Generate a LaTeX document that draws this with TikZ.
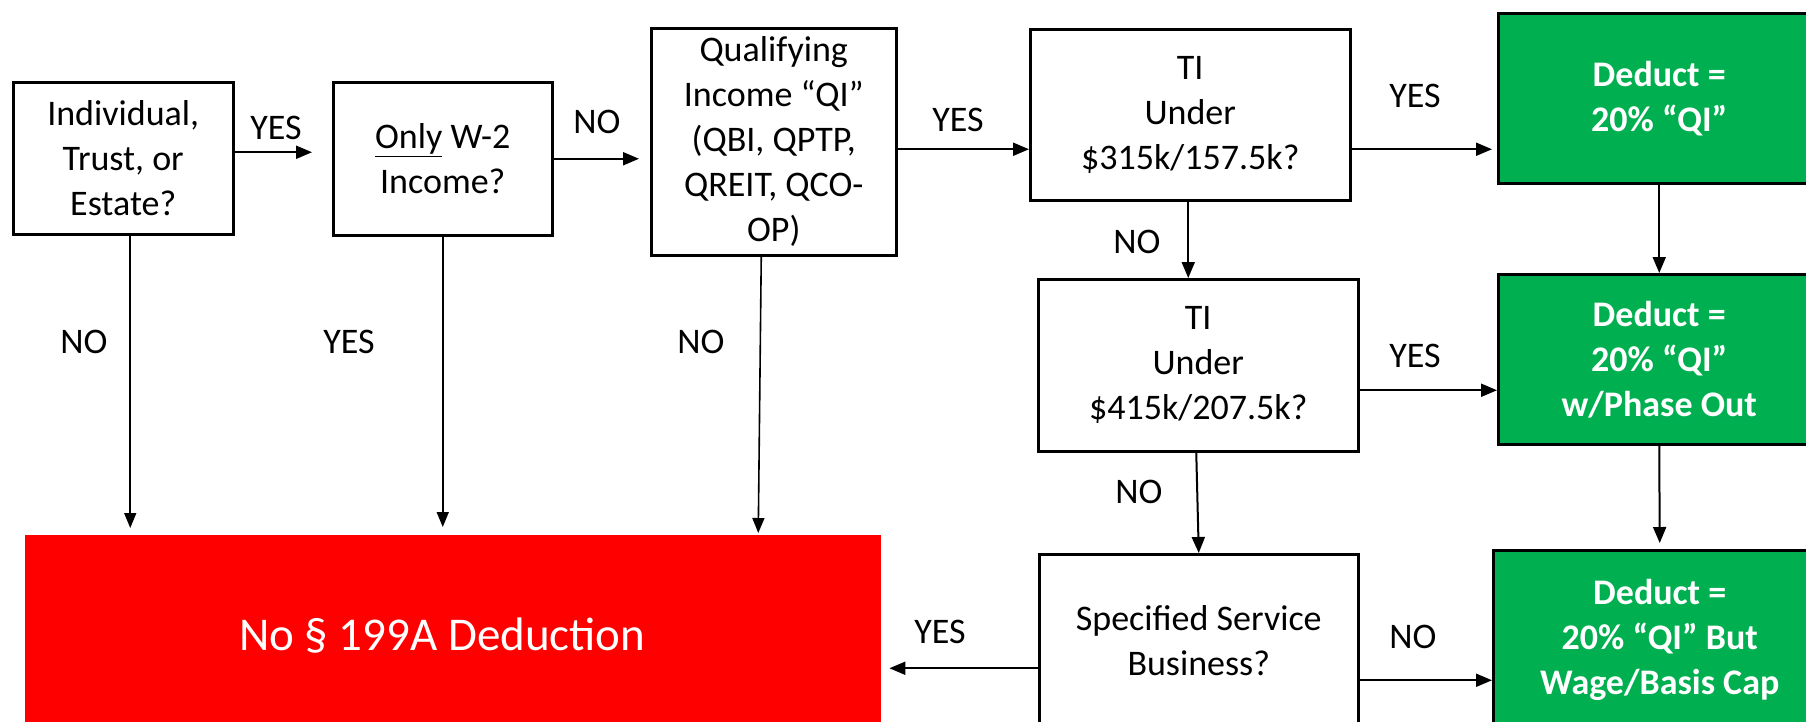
\documentclass[tikz,border=0pt]{standalone}
\usepackage{fontspec}
\setmainfont{Carlito}
\usetikzlibrary{arrows.meta,calc}
\definecolor{ggreen}{RGB}{0,176,80}
\definecolor{rred}{RGB}{255,0,0}
\begin{document}
\begin{tikzpicture}[x=1pt,y=-1pt,
  box/.style={draw=black,line width=2.5pt,inner sep=0pt,align=center,anchor=north west,font=\fontsize{36}{45}\selectfont},
  gbox/.style={box,fill=ggreen,text=white,font=\fontsize{36}{45}\selectfont\bfseries},
  lbl/.style={font=\fontsize{36}{45}\selectfont,inner sep=0pt},
  arr/.style={-{Triangle[length=16pt,width=13pt]},line width=2pt},
  varr/.style={-{Triangle[length=15pt,width=12pt]},line width=1.6pt}]
\useasboundingbox (0,0) rectangle (1806,721);
\clip (0,0) rectangle (1806,721);
\fill[white] (0,0) rectangle (1806,721);
% boxes
\node[box,minimum width=220pt,minimum height=152pt] (b1) at (12,81) {Individual,\\Trust, or\\Estate?};
\node[box,minimum width=219pt,minimum height=153pt] (b2) at (332,81) {\underline{Only} W-2\\Income?};
\node[box,minimum width=245pt,minimum height=227pt] (b3) at (650,27) {Qualifying\\Income “QI”\\(QBI, QPTP,\\QREIT, QCO-\\OP)};
\node[box,minimum width=320pt,minimum height=171pt] (b4) at (1029,28) {TI\\Under\\\$315k/157.5k?};
\node[box,minimum width=320pt,minimum height=172pt] (b5) at (1037,278) {TI\\Under\\\$415k/207.5k?};
\node[box,minimum width=319pt,minimum height=172pt] (b6) at (1038,553) {Specified Service\\Business?};
\node[gbox,minimum width=322pt,minimum height=170pt] (g1) at (1497,12) {Deduct =\\20\% “QI”};
\node[gbox,minimum width=322pt,minimum height=170pt] (g2) at (1497,273) {Deduct =\\20\% “QI”\\w/Phase Out};
\node[gbox,minimum width=333pt,minimum height=180pt] (g3) at (1492,549) {Deduct =\\20\% “QI” But\\Wage/Basis Cap};
\node[fill=rred,minimum width=856pt,minimum height=200pt,anchor=north west,inner sep=0pt,text=white,font=\fontsize{47}{56}\selectfont] (red) at (25,535) {No § 199A Deduction\hspace*{22pt}};
% labels
\node[lbl] (l1) at (276,128) {YES};
\node[lbl] (l2) at (597,122) {NO};
\node[lbl] (l3) at (958,120) {YES};
\node[lbl] (l4) at (1415,96) {YES};
\node[lbl] (l5) at (1137,242) {NO};
\node[lbl] (l6) at (1415,356) {YES};
\node[lbl] (l7) at (1139,492) {NO};
\node[lbl] (l8) at (940,632) {YES};
\node[lbl] (l9) at (1413,637) {NO};
\node[lbl] (l10) at (84,342) {NO};
\node[lbl] (l11) at (349,342) {YES};
\node[lbl] (l12) at (701,342) {NO};
% connector coordinates
\coordinate (p1) at ([yshift=6pt]b1.east);
\coordinate (p3) at ([yshift=-7.5pt]b3.east);
\coordinate (p4) at ([yshift=-34.5pt]b4.east);
\coordinate (p6) at ([yshift=-25pt]b5.east);
\coordinate (p10) at ([yshift=-28pt]b6.west);
\coordinate (p11) at ([yshift=-40pt]b6.east);
\coordinate (q1) at ([xshift=7pt]b1.south);
\coordinate (q3) at ([xshift=-12.5pt]b3.south);
% connectors
\draw[arr,shorten >=20pt] (p1) -- (p1 -| b2.west);
\draw[arr,shorten >=11pt] (b2.east) -- (b2.east -| b3.west);
\draw[arr] (p3) -- (p3 -| b4.west);
\draw[arr,shorten >=5pt] (p4) -- (p4 -| g1.west);
\draw[arr] ([xshift=-2pt]b4.south) -- ([xshift=-10pt]b5.north);
\draw[arr] (p6) -- (p6 -| g2.west);
\draw[arr] ([xshift=-2pt]b5.south) -- (b6.north);
\draw[arr] (g1.south) -- (g2.north);
\draw[arr,shorten >=6pt] (g2.south) -- (g3.north);
\draw[arr,shorten >=8pt] (p10) -- (p10 -| red.east);
\draw[arr] (p11) -- (p11 -| g3.west);
\draw[varr,shorten >=7pt] (q1) -- (q1 |- red.north);
\draw[varr,shorten >=8pt] (b2.south) -- (b2.south |- red.north);
\draw[varr] (q3) -- ($(q3 |- red.north)+(-3,-2)$);
\end{tikzpicture}
\end{document}
